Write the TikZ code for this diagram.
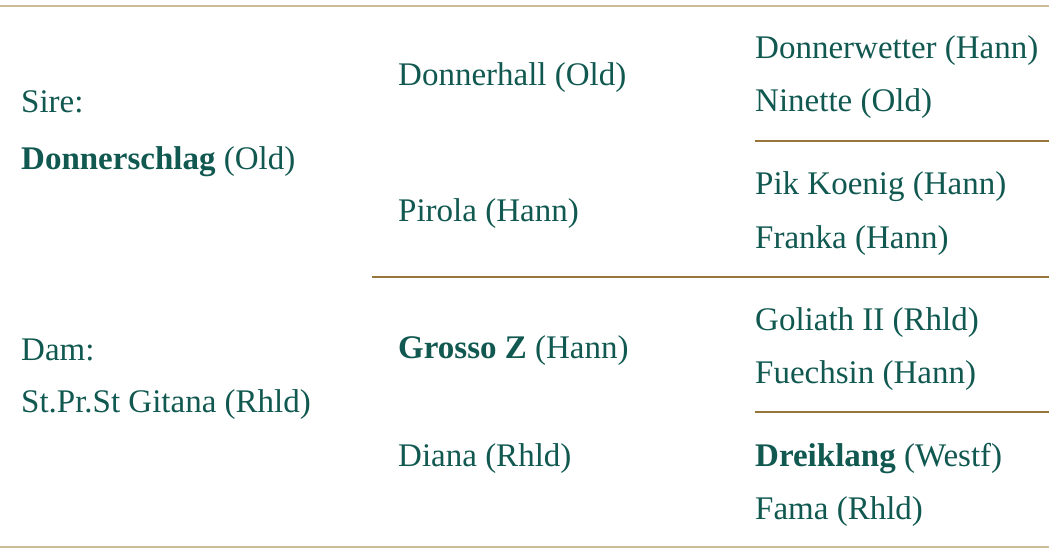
\documentclass[tikz,border=0pt]{standalone}
\usepackage{fontspec}
\setmainfont{Liberation Serif}
\definecolor{pedtext}{RGB}{16,88,80}
\definecolor{pedrule}{RGB}{152,118,58}
\definecolor{pedfaint}{RGB}{205,188,150}
\begin{document}
\begin{tikzpicture}[
      x=1pt, y=-1pt,
      horse/.style={anchor=base west, inner sep=0pt, text=pedtext,
                    font=\fontsize{33}{40}\selectfont},
      rule/.style={draw=pedrule, line width=1.6pt},
      edge/.style={draw=pedfaint, line width=1.4pt}
    ]
      \useasboundingbox (0,0) rectangle (1049,549);
      % frame lines
      \draw[edge] (0,6) -- (1049,6);
      \draw[edge] (0,547) -- (1049,547);
      \draw[rule] (755,141) -- (1049,141);
      \draw[rule] (372,277) -- (1049,277);
      \draw[rule] (755,412) -- (1049,412);
      % parents
      \node[horse] (sirelbl) at (21,112) {Sire:};
      \node[horse] (sire) at (21,169) {\textbf{Donnerschlag} (Old)};
      \node[horse] (damlbl) at (21,360) {Dam:};
      \node[horse] (dam) at (21,412) {St.Pr.St Gitana (Rhld)};
      % grandparents
      \foreach \n/\yy/\t in {ss/85/Donnerhall (Old), sd/221/Pirola (Hann),
                             ds/358/\textbf{Grosso Z} (Hann), dd/466/Diana (Rhld)} {
        \node[horse] (\n) at (398,\yy) {\t};
      }
      % great-grandparents
      \foreach \n/\yy/\t in {sss/58/Donnerwetter (Hann), ssd/111/Ninette (Old),
                             sds/194/Pik Koenig (Hann), sdd/248/Franka (Hann),
                             dss/330/Goliath II (Rhld), dsd/383/Fuechsin (Hann),
                             dds/466/\textbf{Dreiklang} (Westf), ddd/519/Fama (Rhld)} {
        \node[horse] (\n) at (755,\yy) {\t};
      }
    \end{tikzpicture}
\end{document}
